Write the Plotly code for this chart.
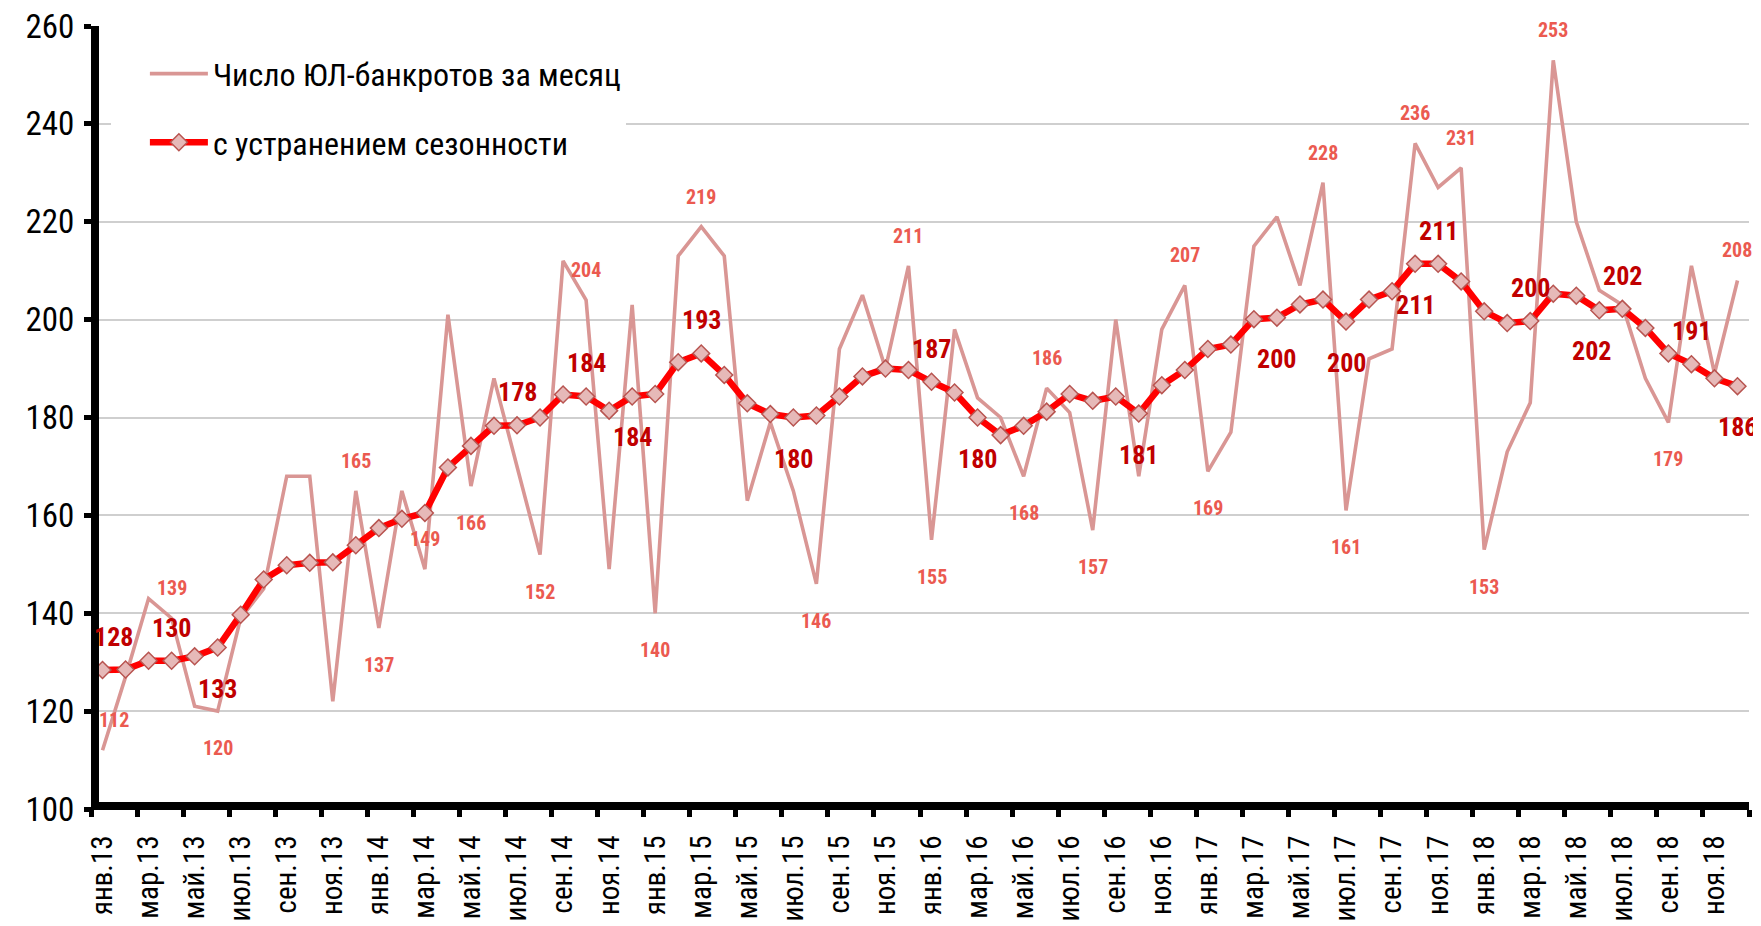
import plotly.graph_objects as go

months = ["янв.", "фев.", "мар.", "апр.", "май.", "июн.",
          "июл.", "авг.", "сен.", "окт.", "ноя.", "дек."]
years = ["13", "14", "15", "16", "17", "18"]
categories = [m + y for y in years for m in months]
x_idx = list(range(len(categories)))

# Число ЮЛ-банкротов за месяц
monthly = [112, 127, 143, 139, 121, 120, 139, 145, 168, 168,
           122, 165, 137, 165, 149, 201, 166, 188, 170, 152,
           212, 204, 149, 203, 140, 213, 219, 213, 163, 179,
           165, 146, 194, 205, 190, 211, 155, 198, 184, 180,
           168, 186, 181, 157, 200, 168, 198, 207, 169, 177,
           215, 221, 207, 228, 161, 192, 194, 236, 227, 231,
           153, 173, 183, 253, 220, 206, 203, 188, 179, 211,
           189, 208]

# с устранением сезонности
seasonal_adj = [128.4, 128.5, 130.3, 130.3, 131.2, 133.0, 139.7, 146.9, 149.8, 150.3,
                150.4, 153.9, 157.4, 159.3, 160.5, 169.8, 174.2, 178.3, 178.4, 180.0,
                184.7, 184.3, 181.4, 184.3, 184.8, 191.3, 193.1, 188.7, 182.9, 180.7,
                180.0, 180.4, 184.3, 188.4, 190.0, 189.7, 187.3, 185.1, 180.0, 176.4,
                178.3, 181.2, 184.8, 183.4, 184.3, 180.8, 186.6, 189.7, 194.0, 194.9,
                200.1, 200.4, 203.1, 204.1, 199.6, 204.1, 205.8, 211.4, 211.4, 207.8,
                201.7, 199.3, 199.7, 205.3, 204.9, 201.9, 202.2, 198.3, 193.1, 190.9,
                188.0, 186.4]

monthly_lbl_above = [0, 3, 11, 14, 21, 26, 35, 41, 47, 53, 57, 59, 63, 71]
monthly_lbl_below = [5, 12, 16, 19, 24, 31, 36, 40, 43, 48, 54, 60, 68]
sa_lbl_above = [0, 3, 18, 21, 26, 36, 58, 62, 66, 69]
sa_lbl_below = [5, 23, 30, 38, 45, 51, 54, 57, 65, 71]

y_ticks = [100, 120, 140, 160, 180, 200, 220, 240, 260]

FONT = "Roboto Condensed, Liberation Sans Narrow, Arial Narrow, DejaVu Sans Condensed, sans-serif"
PINK = "#D99694"
PINK_TXT = "#EB5A50"
RED = "#FF0000"
DARK_RED = "#C00000"

fig = go.Figure()
fig.add_trace(go.Scatter(
    x=x_idx, y=monthly, mode="lines",
    name="Число ЮЛ-банкротов за месяц",
    line=dict(color=PINK, width=3.6),
    legendgroup="g1",
))
fig.add_trace(go.Scatter(
    x=x_idx, y=seasonal_adj, mode="lines+markers",
    name="с устранением сезонности",
    line=dict(color=RED, width=6.5),
    marker=dict(symbol="diamond", size=13, color="#E6B9B8",
                line=dict(color="#B85450", width=1.5)),
    legendgroup="g2",
))

annotations = []
def add_labels(idx_list, values, up, color, size, shift_up, shift_down):
    for i in idx_list:
        xs = 0
        if i == 0:
            xs = 11
        elif i == 65:
            xs = -8
        annotations.append(dict(
            x=x_idx[i], y=values[i], xref="x", yref="y",
            text=f"{round(values[i]):d}", showarrow=False,
            yshift=shift_up if up else -shift_down,
            xshift=xs,
            font=dict(family=FONT, size=size, color=color, weight="bold"),
        ))

add_labels(monthly_lbl_above, monthly, True, PINK_TXT, 20, 30, 37)
add_labels(monthly_lbl_below, monthly, False, PINK_TXT, 20, 30, 37)
add_labels(sa_lbl_above, seasonal_adj, True, DARK_RED, 26, 33, 41)
add_labels(sa_lbl_below, seasonal_adj, False, DARK_RED, 26, 33, 41)

boundaries = [i - 0.5 for i in range(0, len(categories) + 1, 2)]

# the page adds an 8px body margin; the figure is sized so the plot lands
# where the reference has it inside the 1761x926 window
fig.update_layout(
    width=1753, height=918,
    margin=dict(l=83, r=12, t=18, b=117, autoexpand=False),
    plot_bgcolor="white", paper_bgcolor="white",
    font=dict(family=FONT, color="black"),
    annotations=annotations,
    showlegend=True,
    legend=dict(
        x=0.012, y=0.974, xanchor="left", yanchor="top",
        bgcolor="white", borderwidth=0, indentation=34,
        font=dict(family=FONT, size=32, color="black"),
        itemwidth=58, tracegroupgap=24, traceorder="grouped",
    ),
    xaxis=dict(
        range=[-0.5, 71.5], tickmode="array",
        tickvals=x_idx[::2], ticktext=categories[::2],
        ticks="", ticklen=0,
        minor=dict(tickmode="array", tickvals=boundaries, ticks="outside",
                   ticklen=7, tickwidth=5, tickcolor="black", showgrid=False),
        showline=True, linewidth=8, linecolor="black",
        anchor="free", position=0.004,
        tickangle=-90, tickfont=dict(family=FONT, size=29, color="black"),
        ticklabelstandoff=14,
        showgrid=False, zeroline=False, automargin=False,
    ),
    yaxis=dict(
        range=[100, 260], tickmode="array", tickvals=y_ticks,
        showgrid=True, gridcolor="#CFCFCF", gridwidth=2,
        showline=True, linewidth=8, linecolor="black",
        anchor="free", position=0.0024,
        ticks="outside", ticklen=7, tickwidth=5, tickcolor="black",
        tickfont=dict(family=FONT, size=33, color="black"),
        ticklabelstandoff=3, ticklabeloverflow="allow",
        zeroline=False, automargin=False,
    ),
)

fig.write_html("out.html")
